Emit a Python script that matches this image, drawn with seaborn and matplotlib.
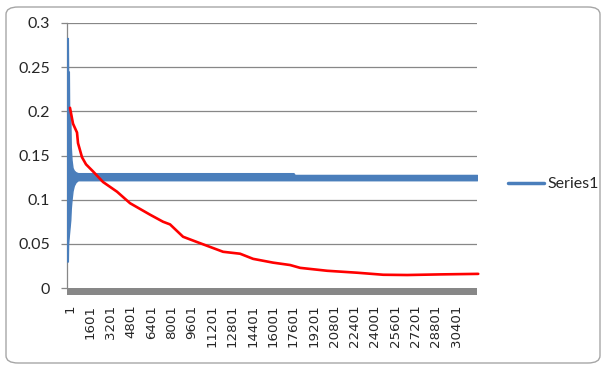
import matplotlib
matplotlib.use("Agg")
from matplotlib import pyplot as plt
from matplotlib.lines import Line2D
from matplotlib.patches import Rectangle, FancyBboxPatch
import seaborn as sns
import pandas as pd
import numpy as np

# blue series (Series1): dense oscillation, stored as its envelope
blue_x = [-236, -170, -150, -90, -70, 20, 60, 120, 200, 300, 450, 630, 17600, 17700, 32054]
blue_hi = [0.283, 0.283, 0.245, 0.245, 0.205, 0.20, 0.16, 0.145, 0.136, 0.133, 0.131, 0.130, 0.130, 0.128, 0.128]
blue_lo = [0.03, 0.03, 0.05, 0.06, 0.063, 0.077, 0.09, 0.10, 0.11, 0.116, 0.12, 0.122, 0.122, 0.122, 0.122]

# red curve
red_x = [0, 237, 552, 631, 946, 1261, 1813, 2601, 3704, 4728, 6304, 7329, 7880,
         8905, 10008, 12057, 13396, 14421, 15997, 17336, 18124, 20252, 22616,
         24665, 26556, 29156, 32151]
red_y = [0.204, 0.186, 0.176, 0.164, 0.148, 0.140, 0.132, 0.120, 0.109, 0.096,
         0.083, 0.075, 0.072, 0.058, 0.052, 0.041, 0.0388, 0.033, 0.0287, 0.026,
         0.0228, 0.0195, 0.0173, 0.015, 0.0147, 0.0154, 0.016]

x_ticks = list(range(1, 30402, 1600))
y_ticks = [0, 0.05, 0.1, 0.15, 0.2, 0.25, 0.3]
y_labels = ["0", "0.05", "0.1", "0.15", "0.2", "0.25", "0.3"]

sns.set_style("white")
plt.rcParams['font.family'] = ['Lato', 'DejaVu Sans']

blue = "#4A7EBB"
grid = "#878787"

fig = plt.figure(figsize=(6.08, 3.66), dpi=100)
ax = fig.add_axes([67 / 608, 1 - 288 / 366, 410 / 608, 265 / 366])

for v in y_ticks[1:]:
    ax.axhline(v, color=grid, lw=0.9, zorder=1)

ax.fill_between(blue_x, blue_lo, blue_hi, color=blue, lw=1.0, edgecolor=blue, zorder=3)

red_df = pd.DataFrame({"x": red_x, "y": red_y})
sns.lineplot(data=red_df, x="x", y="y", ax=ax, color="red", lw=1.9,
             zorder=4, clip_on=False)

# grey band of dense category tick marks under the axis
ax.add_patch(Rectangle((0, -7 / 265), 1, 7 / 265, transform=ax.transAxes,
                       color=grid, clip_on=False, zorder=2, lw=0))

ax.set_xlim(-236, 32054)
ax.set_ylim(0, 0.3)
ax.set_xlabel("")
ax.set_ylabel("")

ax.set_yticks(y_ticks)
ax.set_yticklabels(y_labels, fontsize=11.5)
ax.tick_params(axis="y", direction="out", length=4, width=0.9, color=grid,
               pad=8, left=True)

ax.set_xticks(x_ticks)
ax.set_xticklabels([str(t) for t in x_ticks], rotation=90, fontsize=9.6,
                   family="DejaVu Sans", va="top")
ax.tick_params(axis="x", length=0, pad=12)

for s in ["top", "right", "bottom"]:
    ax.spines[s].set_visible(False)
ax.spines["left"].set_color(grid)
ax.spines["left"].set_linewidth(0.9)

handle = Line2D([], [], color=blue, lw=2.5)
fig.legend([handle], ["Series1"], loc="center left",
           bbox_to_anchor=(494 / 608, 1 - 184 / 366), frameon=False,
           fontsize=11.5, handlelength=2.2, handletextpad=0.25)

fig.patches.append(FancyBboxPatch((6 / 608, 3 / 366), 594 / 608, 356 / 366,
                                  boxstyle="round,pad=0,rounding_size=0.02",
                                  transform=fig.transFigure, fill=False,
                                  edgecolor="#A6A6A6", lw=1.0))

fig.savefig("out.png", dpi=100)
